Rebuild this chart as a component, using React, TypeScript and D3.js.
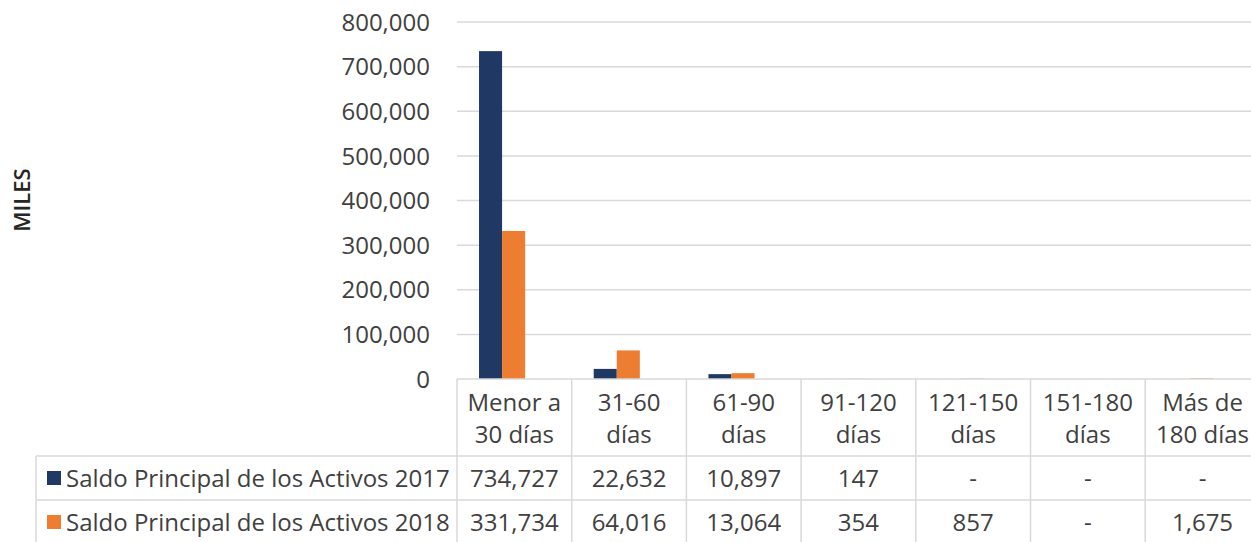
import React from "react";
import * as d3 from "d3";

const categories = [
  ["Menor a", "30 días"],
  ["31-60", "días"],
  ["61-90", "días"],
  ["91-120", "días"],
  ["121-150", "días"],
  ["151-180", "días"],
  ["Más de", "180 días"],
];
const seriesNames = [
  "Saldo Principal de los Activos 2017",
  "Saldo Principal de los Activos 2018",
];
const values2017: (number | null)[] = [734727, 22632, 10897, 147, null, null, null];
const values2018: (number | null)[] = [331734, 64016, 13064, 354, 857, null, 1675];
const yTicks = [0, 100000, 200000, 300000, 400000, 500000, 600000, 700000, 800000];
const colors = ["#203864", "#ED7D31"];
const yTitle = "MILES";

export default function App() {
  const W = 1251, H = 542;
  const left = 457, colW = 114.7;
  const top = 22, bottom = 379;
  const rowH = [77, 44, 44];
  const textColor = "#404040";
  const gridColor = "#d9d9d9";
  const font = "'Open Sans', 'Noto Sans', sans-serif";
  const fs = 24;

  const idx = categories.map((_, i) => i);
  const x = d3.scaleBand<number>().domain(idx).range([left, left + colW * categories.length]).paddingInner(0).paddingOuter(0);
  const bw = x.bandwidth();
  const x1 = d3.scaleBand<number>().domain([0, 1]).range([bw * 0.192, bw * 0.594]).paddingInner(0).paddingOuter(0);
  const y = d3.scaleLinear().domain([0, 800000]).range([bottom, top]);
  const fmt = d3.format(",");
  const series = [values2017, values2018];

  const rowTops = [bottom, bottom + rowH[0], bottom + rowH[0] + rowH[1]];
  const tableBottom = rowTops[2] + rowH[2];
  const legendLeft = 36;

  return (
    <svg width={W} height={H} style={{ position: "absolute", left: 0, top: 0, background: "#fff" }} fontFamily={font}>
      {yTicks.filter((t) => t > 0).map((t) => (
        <line key={t} x1={left} x2={W} y1={y(t)} y2={y(t)} stroke={gridColor} strokeWidth={1.5} />
      ))}
      {yTicks.map((t) => (
        <text key={t} x={430} y={y(t)} dy="0.36em" textAnchor="end" fontSize={fs} fill={textColor}>
          {fmt(t)}
        </text>
      ))}
      <text transform={`translate(30,200) rotate(-90)`} textAnchor="middle" fontSize={22} fontWeight={600} fill="#262626">
        {yTitle}
      </text>
      {series.map((vals, s) =>
        vals.map((v, i) =>
          v == null ? null : (
            <rect key={`${s}-${i}`} x={(x(i) as number) + (x1(s) as number)} y={y(v)} width={x1.bandwidth()} height={bottom - y(v)} fill={colors[s]} />
          )
        )
      )}
      <line x1={left} x2={W} y1={rowTops[0]} y2={rowTops[0]} stroke={gridColor} strokeWidth={1.5} />
      <line x1={legendLeft} x2={W} y1={rowTops[1]} y2={rowTops[1]} stroke={gridColor} strokeWidth={1.5} />
      <line x1={legendLeft} x2={W} y1={rowTops[2]} y2={rowTops[2]} stroke={gridColor} strokeWidth={1.5} />
      <line x1={legendLeft} x2={legendLeft} y1={rowTops[1]} y2={tableBottom} stroke={gridColor} strokeWidth={1.5} />
      {idx.concat([categories.length]).map((i) => {
        const xx = left + i * colW;
        return <line key={i} x1={xx} x2={xx} y1={rowTops[0]} y2={tableBottom} stroke={gridColor} strokeWidth={1.5} />;
      })}
      {categories.map((c, i) => (
        <text key={i} textAnchor="middle" fontSize={fs} fill={textColor}>
          <tspan x={(x(i) as number) + bw / 2} y={rowTops[0] + 32}>{c[0]}</tspan>
          <tspan x={(x(i) as number) + bw / 2} y={rowTops[0] + 64}>{c[1]}</tspan>
        </text>
      ))}
      {series.map((vals, s) => {
        const cy = rowTops[s + 1] + rowH[s + 1] / 2;
        return (
          <g key={s}>
            <rect x={47} y={cy - 7} width={14} height={14} fill={colors[s]} />
            <text x={66} y={cy} dy="0.36em" fontSize={fs} fill={textColor}>{seriesNames[s]}</text>
            {vals.map((v, i) => (
              <text key={i} x={(x(i) as number) + bw / 2} y={cy} dy="0.36em" textAnchor="middle" fontSize={fs} fill={textColor}>
                {v == null ? "-" : fmt(v)}
              </text>
            ))}
          </g>
        );
      })}
    </svg>
  );
}
